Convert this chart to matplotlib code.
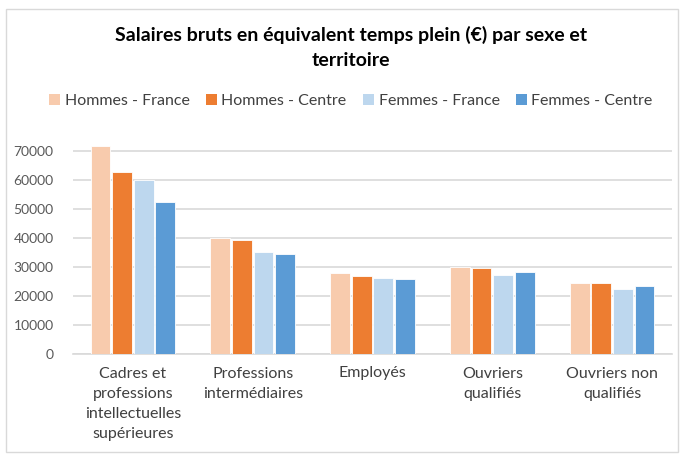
import matplotlib.pyplot as plt
import numpy as np
from matplotlib.patches import Rectangle, Patch

plt.rcParams['font.family'] = ['Lato', 'DejaVu Sans']

# Données
categories = ["Cadres et\nprofessions\nintellectuelles\nsupérieures",
              "Professions\nintermédiaires",
              "Employés",
              "Ouvriers\nqualifiés",
              "Ouvriers non\nqualifiés"]
series_names = ["Hommes - France", "Hommes - Centre", "Femmes - France", "Femmes - Centre"]
hommes_france = [72000, 40100, 27900, 30200, 24700]
hommes_centre = [62800, 39400, 27000, 29600, 24700]
femmes_france = [60000, 35300, 26400, 27400, 22500]
femmes_centre = [52600, 34400, 25900, 28200, 23600]
yticks = [0, 10000, 20000, 30000, 40000, 50000, 60000, 70000]

colors = ["#F8CBAD", "#ED7D31", "#BDD7EE", "#5B9BD5"]
series = [hommes_france, hommes_centre, femmes_france, femmes_centre]

fig = plt.figure(figsize=(6.81, 4.54), dpi=100)
ax = fig.add_axes([73 / 681, 100 / 454, 599 / 681, 217 / 454])

x = np.arange(len(categories))
slot = 0.18
for i, (vals, col) in enumerate(zip(series, colors)):
    ax.bar(x + (i - 1.5) * slot, vals, width=0.165, color=col,
           edgecolor="white", linewidth=0.6, label=series_names[i], zorder=3)

ax.set_xlim(-0.5, len(categories) - 0.5)
ax.set_ylim(0, 75000)
ax.set_yticks(yticks)
ax.set_yticklabels([str(v) for v in yticks])
ax.set_xticks(x)
ax.set_xticklabels(categories, fontsize=11.5, color="#404040", linespacing=1.55)
ax.tick_params(axis="y", labelsize=10, colors="#595959", length=0, pad=14)
ax.tick_params(axis="x", length=0, pad=9)
ax.grid(axis="y", color="#D9D9D9", linewidth=1.2, zorder=0)
for s in ["top", "right", "left"]:
    ax.spines[s].set_visible(False)
ax.spines["bottom"].set_color("#D9D9D9")
ax.spines["bottom"].set_linewidth(1.2)

fig.text(0.515, 1 - 35 / 454, "Salaires bruts en équivalent temps plein (€) par sexe et",
         ha="center", va="center", fontsize=14, fontweight="bold", color="#000000")
fig.text(0.515, 1 - 60 / 454, "territoire",
         ha="center", va="center", fontsize=14, fontweight="bold", color="#000000")

handles = [Patch(facecolor=c, edgecolor="none") for c in colors]
fig.legend(handles, series_names, loc="center", bbox_to_anchor=(0.515, 1 - 101 / 454),
           ncol=4, frameon=False, fontsize=11.5, handlelength=0.7, handleheight=0.7,
           handletextpad=0.3, columnspacing=1.0, labelcolor="#404040")

fig.patches.append(Rectangle((6 / 681, 2 / 454), 672 / 681, 443 / 454,
                             transform=fig.transFigure, fill=False,
                             edgecolor="#D9D9D9", linewidth=1))

fig.savefig("out.png", dpi=100)
